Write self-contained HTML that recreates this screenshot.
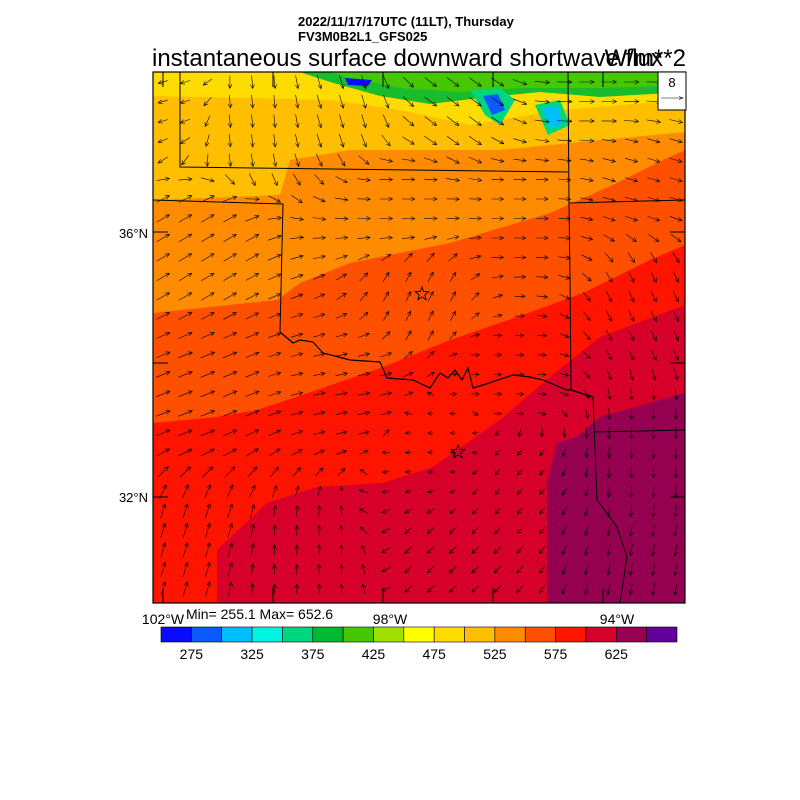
<!DOCTYPE html>
<html><head><meta charset="utf-8"><style>
body{margin:0;background:#fff;}
svg{display:block;font-family:"Liberation Sans",sans-serif;}
</style></head><body>
<svg id="s" width="800" height="800" viewBox="0 0 800 800" xmlns="http://www.w3.org/2000/svg">
<defs><clipPath id="c"><rect x="153" y="72" width="532" height="531"/></clipPath></defs>
<text x="298" y="26" font-size="13" font-weight="bold">2022/11/17/17UTC (11LT), Thursday</text>
<text x="298" y="41" font-size="13" font-weight="bold">FV3M0B2L1_GFS025</text>
<text x="152" y="66" font-size="24">instantaneous surface downward shortwave flux</text>
<text x="686" y="66" font-size="24" text-anchor="end">W/m**2</text>
<g clip-path="url(#c)">
<rect x="153" y="72" width="532" height="531" fill="#ffbe00"/>
<polygon fill="#ffdc00" points="153,72 685,72 685,100 560,110 470,125 400,110 330,100 250,98 153,96"/>
<polygon fill="#00b832" opacity="0.9" points="300,72 685,72 685,92 600,97 540,92 480,98 430,104 380,96 330,82"/>
<polygon fill="#46c800" points="330,72 685,72 685,85 600,88 520,88 460,92 400,88 350,78"/>
<polygon fill="#00d580" points="470,90 500,88 515,100 500,125 485,115"/>
<polygon fill="#0a5aff" points="483,96 498,94 505,110 492,115"/>
<polygon fill="#00d580" points="535,105 560,100 570,125 548,135"/>
<polygon fill="#00bfff" points="542,108 558,106 562,125 550,128"/>
<polygon fill="#0a0aff" points="345,78 372,80 368,86 348,85"/>
<polygon fill="#ff8c00" points="153,200 280,195 290,160 350,150 500,150 600,140 685,132 685,603 153,603"/>
<polygon fill="#ff5000" points="153,313 277,300 300,283 350,263 450,243 550,213 617,183 663,160 685,150 685,603 153,603"/>
<polygon fill="#ff1400" points="153,423 217,417 257,410 317,390 383,367 450,340 517,317 583,293 650,260 685,245 685,603 153,603"/>
<polygon fill="#d7002a" points="217,603 217,550 267,503 317,487 383,483 433,467 467,443 500,420 550,377 600,337 685,305 685,603"/>
<polygon fill="#960050" points="547,603 547,483 557,443 577,437 600,417 685,393 685,603"/>
<g fill="none" stroke="#000" stroke-width="1">
<polyline points="180,72 180,167 568,172"/>
<polyline points="568,72 569,203 570,277 571,390"/>
<polyline points="569,203 685,200"/>
<polyline points="153,200 283,204 280,332"/>
<polyline stroke-width="1.2" points="280,332 293,343 300,340 313,342 323,353 350,360 380,362 387,378 413,380 430,388 440,373 448,378 455,370 462,380 468,368 473,388 483,385 513,375 530,377 543,380 567,390 571,390 593,397"/>
<polyline points="593,397 597,500 617,527 627,557 620,603"/>
<polyline points="595,432 685,430"/>
</g>
<g id="arr" stroke="#000" stroke-width="0.6" fill="none"></g>
<g fill="none" stroke="#000" stroke-width="0.9">
<polygon id="st1" points=""/><polygon id="st2" points=""/>
</g>
</g>
<rect x="153" y="72" width="532" height="531" fill="none" stroke="#000" stroke-width="1.2"/>
<g stroke="#000">
<line x1="153" y1="232" x2="168" y2="232"/><line x1="153" y1="363" x2="168" y2="363"/><line x1="153" y1="497" x2="168" y2="497"/>
<line x1="685" y1="232" x2="670" y2="232"/><line x1="685" y1="363" x2="670" y2="363"/><line x1="685" y1="497" x2="670" y2="497"/>
<line x1="163" y1="603" x2="163" y2="588"/><line x1="273" y1="603" x2="273" y2="588"/><line x1="383" y1="603" x2="383" y2="588"/><line x1="493" y1="603" x2="493" y2="588"/><line x1="603" y1="603" x2="603" y2="588"/>
<line x1="163" y1="72" x2="163" y2="87"/><line x1="273" y1="72" x2="273" y2="87"/><line x1="383" y1="72" x2="383" y2="87"/><line x1="493" y1="72" x2="493" y2="87"/><line x1="603" y1="72" x2="603" y2="87"/>
</g>
<rect x="658" y="72" width="28" height="38" fill="#fff" stroke="#000"/>
<text x="672" y="87" font-size="13" text-anchor="middle">8</text>
<line x1="661" y1="98" x2="683" y2="98" stroke="#000" stroke-width="0.6"/>
<polyline points="679,96.5 683,98 679,99.5" fill="none" stroke="#000" stroke-width="0.6"/>
<text x="148" y="238" font-size="13" text-anchor="end">36°N</text>
<text x="148" y="502" font-size="13" text-anchor="end">32°N</text>
<text x="163" y="624" font-size="14" text-anchor="middle">102°W</text>
<text x="390" y="624" font-size="14" text-anchor="middle">98°W</text>
<text x="617" y="624" font-size="14" text-anchor="middle">94°W</text>
<text x="186" y="619" font-size="14">Min= 255.1 Max= 652.6</text>
<g id="cb"></g>
</svg>
<script>
var cols=["#0a0aff","#0a5aff","#00bfff","#00f5e0","#00d580","#00b832","#46c800","#a0e000","#ffff00","#ffdc00","#ffbe00","#ff8c00","#ff5000","#ff1400","#d7002a","#960050","#620099"];
var cb=document.getElementById("cb"),h="";
var x0=161,w=(677-161)/17;
for(var i=0;i<17;i++){h+='<rect x="'+(x0+i*w)+'" y="627" width="'+w+'" height="15" fill="'+cols[i]+'" stroke="#000" stroke-width="0.6"/>';}
var labs=[275,325,375,425,475,525,575,625];
for(var j=0;j<8;j++){h+='<text x="'+(x0+(1+2*j)*w)+'" y="659" font-size="14" text-anchor="middle">'+labs[j]+'</text>';}
cb.innerHTML=h;
var cp=[[170,90,-1,0.3,10],[250,110,0.1,1,13],[350,110,0.3,1,14],[450,110,0.8,0.6,15],[600,90,1,0,15],[650,180,1,0.3,13],[650,300,0.5,1,12],[650,450,0,1,12],[650,570,-0.2,1,12],[200,250,1,-0.6,15],[200,400,1,-0.4,15],[200,550,0.3,-1,15],[300,580,0,-1,10],[450,560,-0.7,0.7,10],[450,450,-1,0,5],[500,480,-0.5,0.6,8],[420,300,0.5,-1,11],[400,200,1,0,13],[520,220,1,0,12],[350,380,1,-0.2,12],[500,380,1,0,8]];
var a="";
for(var y=82;y<603;y+=19.5){for(var x=163;x<685;x+=22.3){
var sx=0,sy=0,sl=0,sw=0;
for(var k=0;k<cp.length;k++){var c=cp[k];var d=(x-c[0])*(x-c[0])+(y-c[1])*(y-c[1])+100;var wt=1/(d*d);var n=Math.hypot(c[2],c[3]);sx+=wt*c[2]/n;sy+=wt*c[3]/n;sl+=wt*c[4];sw+=wt;}
var n2=Math.hypot(sx,sy)||1;var ux=sx/n2,uy=sy/n2,L=sl/sw;
var x1=x-ux*L/2,y1=y-uy*L/2,x2=x+ux*L/2,y2=y+uy*L/2;
var hx=x2-ux*4,hy=y2-uy*4;
a+='<path d="M'+x1.toFixed(1)+' '+y1.toFixed(1)+'L'+x2.toFixed(1)+' '+y2.toFixed(1)+'M'+(hx-uy*2).toFixed(1)+' '+(hy+ux*2).toFixed(1)+'L'+x2.toFixed(1)+' '+y2.toFixed(1)+'L'+(hx+uy*2).toFixed(1)+' '+(hy-ux*2).toFixed(1)+'"/>';
}}
document.getElementById("arr").innerHTML=a;
function star(id,cx,cy,r){var p=[];for(var i=0;i<10;i++){var rr=i%2?r*0.42:r;var t=-Math.PI/2+i*Math.PI/5;p.push((cx+rr*Math.cos(t)).toFixed(1)+","+(cy+rr*Math.sin(t)).toFixed(1));}document.getElementById(id).setAttribute("points",p.join(" "));}
star("st1",422,294,7);star("st2",458,452,7);
</script>
</body></html>
